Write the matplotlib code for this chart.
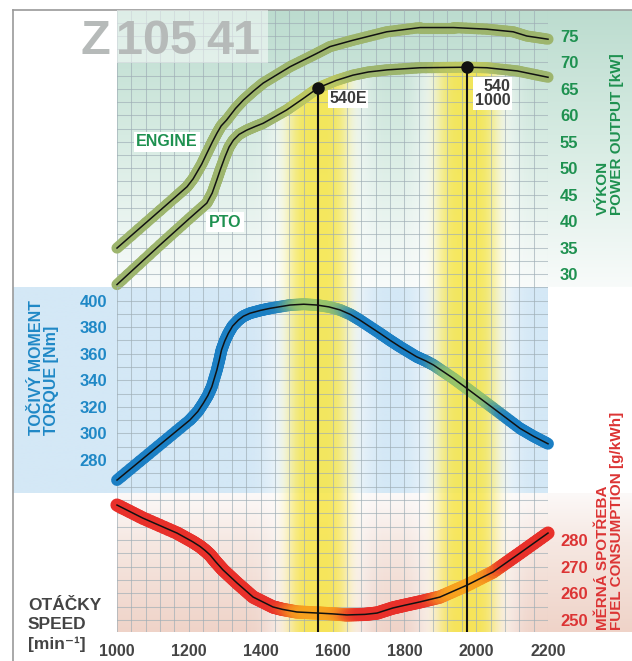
import numpy as np
import matplotlib
matplotlib.use("Agg")
import matplotlib.pyplot as plt
from matplotlib.collections import LineCollection
from matplotlib.patches import Polygon, Rectangle
from matplotlib.colors import to_rgb

plt.rcParams['font.family'] = ['Liberation Sans', 'DejaVu Sans']
plt.rcParams['font.weight'] = 'bold'

# --- data --------------------------------------------------------------
speed_ticks = [1000, 1200, 1400, 1600, 1800, 2000, 2200]

engine_rpm = [1000, 1160, 1195, 1212, 1236, 1250, 1265, 1278, 1290, 1305, 1330,
              1352, 1380, 1407, 1482, 1556, 1593, 1657, 1751, 1844, 1937,
              2029, 2103, 2141, 2200]
engine_kw = [34.9, 44.4, 46.5, 48.0, 50.8, 52.8, 54.9, 56.6, 58.0, 59.1, 61.3,
             62.9, 64.6, 66.1, 69.2, 71.7, 73.0, 74.2, 75.8, 76.6, 76.6,
             76.3, 75.8, 75.0, 74.4]

pto_rpm = [1000, 1120, 1200, 1250, 1265, 1278, 1288, 1301, 1312, 1324, 1340,
           1361, 1385, 1407, 1472, 1519, 1560, 1610, 1657, 1700, 1752, 1844,
           1975, 2030, 2114, 2200]
pto_kw = [28.0, 35.5, 40.4, 43.4, 45.3, 47.8, 49.8, 52.2, 54.0, 55.3, 56.4,
          57.2, 57.9, 58.5, 61.0, 63.2, 65.2, 66.6, 67.6, 68.2, 68.6, 69.0,
          69.1, 69.0, 68.4, 67.2]

torque_rpm = [1000, 1101, 1203, 1225, 1240, 1253, 1264, 1278, 1285, 1291, 1300,
              1310, 1322, 1338, 1352, 1370, 1400, 1426, 1482, 1520, 1556, 1590,
              1621, 1650, 1676, 1732, 1760, 1788, 1834, 1860, 1881, 1936,
              1974, 2010, 2048, 2122, 2160, 2200]
torque_nm = [264.9, 287.4, 310.1, 316.5, 322.6, 328.5, 335.1, 347.7, 355.5,
             362.8, 369.5, 375.3, 380.8, 385.3, 388.2, 390.4, 392.6, 394.1,
             396.6, 397.2, 396.6, 395.2, 392.9, 389.5, 385.3, 375.3, 370.1,
             365.2, 357.7, 354.5, 351.5, 341.5, 333.9, 326.6, 318.9, 303.8,
             297.8, 292.2]

fuel_rpm = [1000, 1072, 1167, 1210, 1231, 1245, 1259, 1275, 1295, 1334, 1379,
            1434, 1460, 1501, 1560, 1600, 1640, 1690, 1724, 1768, 1800, 1844,
            1899, 1975, 2047, 2122, 2200]
fuel_g = [293.1, 288.2, 282.6, 279.4, 277.6, 276.1, 274.4, 271.8, 268.8, 263.9,
          258.6, 254.9, 254.0, 253.0, 252.6, 252.3, 251.9, 252.1, 252.6, 254.5,
          255.5, 256.8, 258.6, 263.1, 268.0, 275.1, 282.6]

pto_marks = [1560, 1975]          # 540E and 540/1000 PTO points
pto_mark_labels = ["540E", "540\n1000"]

power_ticks = list(range(30, 80, 5))
torque_ticks = list(range(280, 401, 20))
fuel_ticks = list(range(250, 281, 10))

GREEN = "#1e9150"
BLUE = "#1f88c6"
RED = "#dc3434"
GREY = "#444444"
YELLOW = "#f7e64a"
GRID = "#9eadb5"

W, H = 632, 661


def fx(px):
    return px / W


def fy(py):
    return 1 - py / H


def band_core(x):
    x = np.asarray(x, float)
    return np.max([np.exp(-((x - c) / 88.0) ** 4) for c in pto_marks], axis=0)


def band_halo(x):
    x = np.asarray(x, float)
    return np.max([np.exp(-((x - c) / 135.0) ** 4) for c in pto_marks], axis=0)


def vgrad(ax, x0, x1, y_top, y_bot, stops, colors):
    # vertical colour gradient in pixel space of the background axes
    rows = np.linspace(0, 1, 200)
    rgb = np.array([to_rgb(c) for c in colors])
    img = np.stack([np.interp(rows, stops, rgb[:, k]) for k in range(3)], axis=-1)
    ax.imshow(img[:, None, :], extent=(x0, x1, y_bot, y_top), origin="upper",
              aspect="auto", interpolation="bilinear", zorder=0)


def draw_bands(ax, ylo, yhi, clip=None):
    xs = np.linspace(1000, 2200, 800)
    core = band_core(xs)
    halo = band_halo(xs)
    yel = np.array(to_rgb(YELLOW))
    rgba = np.zeros((1, len(xs), 4))
    rgba[0, :, :3] = (1 - core[:, None]) * 1.0 + core[:, None] * yel
    rgba[0, :, 3] = halo * 0.88
    im = ax.imshow(rgba, extent=(1000, 2200, ylo, yhi), aspect="auto",
                   interpolation="bilinear", zorder=0.2)
    if clip is not None:
        im.set_clip_path(clip)


def draw_curve(ax, xs, ys, base, tint, lw, tint_amt=1.0):
    xs = np.asarray(xs, float)
    ys = np.asarray(ys, float)
    # split each straight piece into short bits so the colour can follow the bands
    segs, mids = [], []
    for i in range(len(xs) - 1):
        t = np.linspace(0, 1, 9)
        sx = xs[i] + t * (xs[i + 1] - xs[i])
        sy = ys[i] + t * (ys[i + 1] - ys[i])
        for j in range(len(t) - 1):
            segs.append([(sx[j], sy[j]), (sx[j + 1], sy[j + 1])])
            mids.append(0.5 * (sx[j] + sx[j + 1]))
    w = band_core(mids)[:, None] * tint_amt
    cols = (1 - w) * np.array(to_rgb(base)) + w * np.array(to_rgb(tint))
    lc = LineCollection(segs, colors=cols, linewidths=lw, capstyle="round",
                        joinstyle="round", zorder=3, clip_on=False)
    ax.add_collection(lc)
    ax.plot(xs, ys, color="#111111", lw=1.1, zorder=4, clip_on=False,
            solid_joinstyle="round")


fig = plt.figure(figsize=(W / 100, H / 100), dpi=100)

# background panels in pixel space
bg = fig.add_axes([0, 0, 1, 1])
bg.set_xlim(0, W)
bg.set_ylim(H, 0)
bg.axis("off")
vgrad(bg, 117, W, 10, 287, [0, 0.45, 1], ["#bcdccf", "#d6ebe2", "#f8fbfa"])
vgrad(bg, 13, 548, 287, 493, [0, 1], ["#d4e8f6", "#d4e8f6"])
vgrad(bg, 117, W, 493, 632, [0, 0.35, 1], ["#fcf9f8", "#f6e8e2", "#efd3c8"])
bg.plot([13, 13], [10, H], color="#9a9a9a", lw=1.2)
bg.plot([13, W], [10, 10], color="#9a9a9a", lw=1.2)

left, width = fx(117), (548 - 117) / W
ax_p = fig.add_axes([left, fy(287), width, (287 - 10) / H])
ax_t = fig.add_axes([left, fy(493), width, (493 - 287) / H])
ax_f = fig.add_axes([left, fy(632), width, (632 - 493) / H])

p_lim = (27.54, 79.92)
t_lim = (255.17, 410.16)
f_lim = (245.5, 297.62)

for ax, lim in ((ax_p, p_lim), (ax_t, t_lim), (ax_f, f_lim)):
    ax.set_facecolor("none")
    for s in ax.spines.values():
        s.set_visible(False)
    ax.set_xticks(speed_ticks)
    ax.set_xticks(np.arange(1000, 2201, 40), minor=True)
    ax.grid(True, which="both", color=GRID, lw=0.75, alpha=0.65)
    ax.tick_params(which="both", length=0)

# --- power -------------------------------------------------------------
ax_p.set_yticks(power_ticks)
ax_p.set_yticks(np.arange(27.5, 80, 2.5), minor=True)
ax_p.yaxis.tick_right()
ax_p.tick_params(axis="y", labelcolor=GREEN, labelsize=12, pad=8.6)
ax_p.tick_params(axis="x", labelbottom=False)

clip_x = list(pto_rpm) + [pto_rpm[-1], pto_rpm[0]]
clip_y = list(pto_kw) + [p_lim[0], p_lim[0]]
clip = Polygon(np.column_stack([clip_x, clip_y]), closed=True,
               transform=ax_p.transData, facecolor="none", edgecolor="none")
ax_p.add_patch(clip)
draw_bands(ax_p, p_lim[0], p_lim[1], clip=clip)

draw_curve(ax_p, engine_rpm, engine_kw, "#9db56d", "#c9cf5c", 8, 0.0)
draw_curve(ax_p, pto_rpm, pto_kw, "#9db56d", "#c9cf5c", 8, 0.7)

mark_kw = np.interp(pto_marks, pto_rpm, pto_kw)
ax_p.vlines(pto_marks, p_lim[0], mark_kw, color="#111111", lw=1.5, zorder=5)
ax_p.plot(pto_marks, mark_kw, "o", color="#111111", ms=8, zorder=6,
          clip_on=False)
offsets = [((8, -8), "left"), ((31, -19), "right")]
for m, y, lab, (off, ha) in zip(pto_marks, mark_kw, pto_mark_labels, offsets):
    ax_p.annotate(lab, (m, y), xytext=off, textcoords="offset points",
                  ha=ha, va="center", fontsize=11.5, color="#3b3b3b",
                  linespacing=0.95, zorder=7,
                  bbox=dict(boxstyle="square,pad=0.1", fc="white", ec="none"))

ax_p.text(1139, 55.0, "ENGINE", ha="center", va="center", color=GREEN,
          fontsize=11.5, zorder=7,
          bbox=dict(boxstyle="square,pad=0.15", fc="white", ec="none"))
ax_p.text(1301, 39.8, "PTO", ha="center", va="center", color=GREEN,
          fontsize=11.5, zorder=7,
          bbox=dict(boxstyle="square,pad=0.15", fc="white", ec="none"))

# lighter box behind the model name
ax_p.add_patch(Rectangle((0, 1 - 53 / 277), (268 - 117) / 431, 53 / 277,
                         transform=ax_p.transAxes, fc="white", ec="none",
                         alpha=0.5, zorder=2))
for txt, px in (("Z", 80), ("105", 116), ("41", 206)):
    fig.text(fx(px), fy(54), txt, ha="left", va="baseline", fontsize=35,
             color="#b6bab9", zorder=10)

# --- torque ------------------------------------------------------------
ax_t.set_yticks(torque_ticks)
ax_t.set_yticks(np.arange(260, 411, 10), minor=True)
ax_t.tick_params(axis="y", labelcolor=BLUE, labelsize=12, pad=7.2)
ax_t.tick_params(axis="x", labelbottom=False)
draw_bands(ax_t, t_lim[0], t_lim[1])
draw_curve(ax_t, torque_rpm, torque_nm, "#1b7fc4", "#98c46a", 8.5)
for m in pto_marks:
    ax_t.axvline(m, color="#111111", lw=1.5, zorder=5)

# --- fuel --------------------------------------------------------------
ax_f.set_yticks(fuel_ticks)
ax_f.set_yticks(np.arange(250, 297, 5), minor=True)
ax_f.yaxis.tick_right()
ax_f.tick_params(axis="y", labelcolor=RED, labelsize=12, pad=8.6)
ax_f.tick_params(axis="x", labelcolor=GREY, labelsize=11.5, pad=8.6)
draw_bands(ax_f, f_lim[0], f_lim[1])
draw_curve(ax_f, fuel_rpm, fuel_g, "#e8302a", "#f7a21e", 9.5)
for m in pto_marks:
    ax_f.axvline(m, color="#111111", lw=1.5, zorder=5)

for ax, lim in ((ax_p, p_lim), (ax_t, t_lim), (ax_f, f_lim)):
    ax.set_xlim(1000, 2200)
    ax.set_ylim(*lim)

# --- axis titles -------------------------------------------------------
fig.text(fx(610), fy(215), "VÝKON\nPOWER OUTPUT [kW]", rotation=90,
         ha="center", va="bottom", multialignment="left", color=GREEN,
         fontsize=11, linespacing=1.05)
fig.text(fx(44), fy(435), "TOČIVÝ MOMENT\nTORQUE [Nm]", rotation=90,
         ha="center", va="bottom", multialignment="left", color=BLUE,
         fontsize=11.5, linespacing=1.05)
fig.text(fx(610), fy(630), "MĚRNÁ SPOTŘEBA\nFUEL CONSUMPTION [g/kWh]",
         rotation=90, ha="center", va="bottom", multialignment="left",
         color=RED, fontsize=11, linespacing=1.05)
fig.text(fx(28), fy(625), "OTÁČKY\nSPEED\n[min⁻¹]", ha="left", va="center",
         color=GREY, fontsize=12.5, linespacing=1.35)

fig.savefig("out.png", dpi=100)
